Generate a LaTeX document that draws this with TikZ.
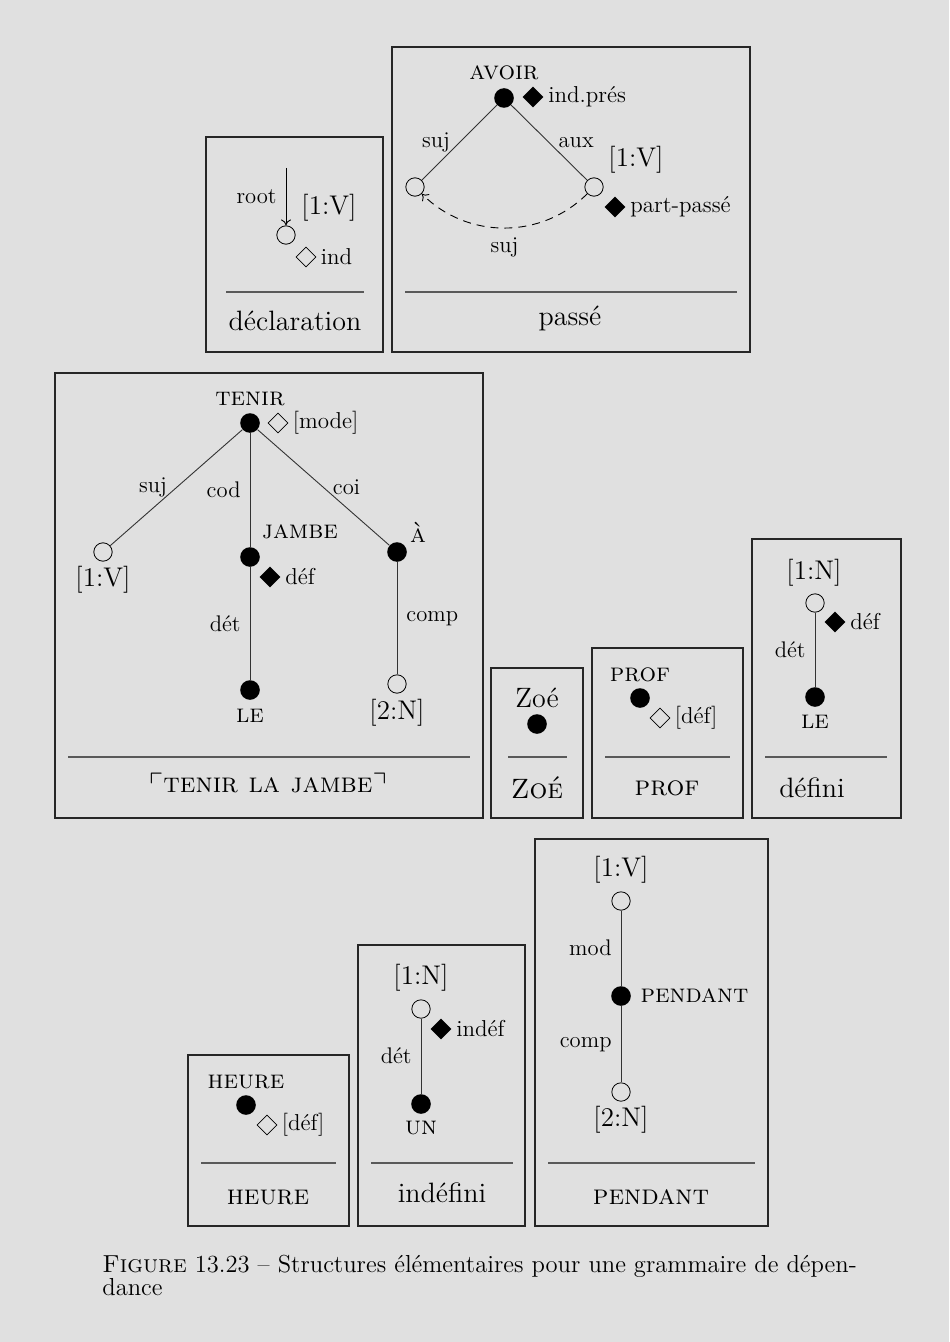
\documentclass[tikz,border=0pt]{standalone}
\usepackage{amssymb}
\usetikzlibrary{shapes.geometric, arrows.meta, positioning}

\begin{document}
\begin{tikzpicture}[
  x=0.5pt, y=-0.5pt,
  %--- style definitions ---
  cadre/.style  = {draw=black!85, line width=0.8pt},
  trait/.style  = {draw=black!65, line width=0.6pt},
  plein/.style  = {circle, fill=black, inner sep=0pt, minimum size=9.8pt},
  vide/.style   = {circle, draw=black, fill=black!12, line width=0.4pt,
                   inner sep=0pt, minimum size=9.2pt},
  fdiam/.style  = {diamond, fill=black, inner sep=0pt, minimum size=10.5pt},
  odiam/.style  = {diamond, draw=black, fill=black!12, line width=0.4pt,
                   inner sep=0pt, minimum size=10pt},
  titre/.style  = {font=\fontsize{14}{16}\selectfont},
  lex/.style    = {font=\fontsize{13}{15}\selectfont\scshape, inner sep=1pt},
  var/.style    = {font=\fontsize{13.5}{16}\selectfont, inner sep=1pt},
  feat/.style   = {font=\fontsize{11.5}{14}\selectfont, inner sep=1pt},
  rel/.style    = {font=\fontsize{11.3}{13}\selectfont, inner sep=4.5pt},
  dep/.style    = {draw=black!80, line width=0.45pt},
  arrow/.style  = {-{To[length=3pt,width=5pt]}, line width=0.45pt},
]

\fill[black!12] (0,0) rectangle (949,1342);
\useasboundingbox (0,0) rectangle (949,1342);

%% ── DÉCLARATION ────────────────────────────────────────────────────────────
\draw[cadre] (206,137) rectangle (383,352);
\node[vide] (dv) at (286,235) {};
\coordinate (droot) at (286,168);
\draw[arrow] (droot) -- node[rel, midway, left] {root} (dv);
\node[var] (dvl) at (329,208) {[1:V]};
\node[odiam] (dd) at (306,257) {};
\node[feat, right=1pt of dd] (df) {ind};
\draw[trait] (226,292) -- (364,292);
\node[titre] (dt) at (295,321) {déclaration};

%% ── PASSÉ ──────────────────────────────────────────────────────────────────
\draw[cadre] (392,47) rectangle (750,352);
\node[plein] (pa) at (504,98) {};
\node[lex] (pal) at (504,73) {avoir};
\node[fdiam] (pad) at (533,97) {};
\node[feat, right=1pt of pad] (paf) {ind.prés};
\node[vide] (pl) at (415,187) {};
\node[vide] (pr) at (594,187) {};
\draw[dep] (pa) -- node[rel, midway, left] {suj} (pl);
\draw[dep] (pa) -- node[rel, midway, right] {aux} (pr);
\node[var] (prl) at (636,160) {[1:V]};
\node[fdiam] (prd) at (615,207) {};
\node[feat, right=1pt of prd] (prf) {part-passé};
% sujet partagé
\draw[arrow, dash pattern=on 4pt off 3pt] (pr) to[bend left=45]
      node[rel, midway, below=0pt] {suj} (pl);
\draw[trait] (405,292) -- (737,292);
\node[titre] (pt) at (570,318) {passé};

%% ── TENIR LA JAMBE ─────────────────────────────────────────────────────────
\draw[cadre] (55,373) rectangle (483,818);
\node[plein] (te) at (250,423) {};
\node[lex] (tel) at (250,399) {tenir};
\node[odiam] (ted) at (278,423) {};
\node[feat, right=1pt of ted] (tef) {[mode]};
\node[vide] (tv) at (103,552) {};
\node[var] (tvl) at (103,580) {[1:V]};
\node[plein] (ja) at (250,557) {};
\node[lex] (jal) at (300,532) {jambe};
\node[fdiam] (jad) at (270,577) {};
\node[feat, right=1pt of jad] (jaf) {déf};
\node[plein] (le) at (250,690) {};
\node[lex] (lel) at (250,716) {le};
\node[plein] (aa) at (397,552) {};
\node[lex] (aal) at (418,532) {à};
\node[vide] (tn) at (397,684) {};
\node[var] (tnl) at (397,713) {[2:N]};

\draw[dep] (te) -- node[rel, midway, left] {suj} (tv);
\draw[dep] (te) -- node[rel, midway, left] {cod} (ja);
\draw[dep] (te) -- node[rel, midway, right] {coi} (aa);
\draw[dep] (ja) -- node[rel, midway, left] {dét} (le);
\draw[dep] (aa) -- node[rel, midway, right] {comp} (tn);
\draw[trait] (68,757) -- (470,757);
\node[titre] (tt) at (268,783) {$\ulcorner$\textsc{tenir la jambe}$\urcorner$};

%% ── ZOÉ ────────────────────────────────────────────────────────────────────
\draw[cadre] (491,668) rectangle (583,818);
\node[titre] (zol) at (537,698) {Zoé};
\node[plein] (zo) at (537,724) {};
\draw[trait] (508,757) -- (567,757);
\node[titre] (zot) at (537,788) {\textsc{Zoé}};

%% ── PROF ───────────────────────────────────────────────────────────────────
\draw[cadre] (592,648) rectangle (743,818);
\node[plein] (pf) at (640,698) {};
\node[lex] (pfl) at (640,675) {prof};
\node[odiam] (pfd) at (660,718) {};
\node[feat, right=1pt of pfd] (pff) {[déf]};
\draw[trait] (605,757) -- (730,757);
\node[titre] (pft) at (667,788) {\textsc{prof}};

%% ── DÉFINI ─────────────────────────────────────────────────────────────────
\draw[cadre] (752,539) rectangle (901,818);
\node[vide] (dn) at (815,603) {};
\node[var] (dnl) at (814,573) {[1:N]};
\node[fdiam] (dnd) at (835,622) {};
\node[feat, right=1pt of dnd] (dnf) {déf};
\node[plein] (dl) at (815,697) {};
\node[lex] (dll) at (815,722) {le};
\draw[dep] (dn) -- node[rel, midway, left] {dét} (dl);
\draw[trait] (765,757) -- (887,757);
\node[titre] (dft) at (812,788) {défini};

%% ── HEURE ──────────────────────────────────────────────────────────────────
\draw[cadre] (188,1055) rectangle (349,1226);
\node[plein] (he) at (246,1105) {};
\node[lex] (hel) at (246,1082) {heure};
\node[odiam] (hed) at (267,1125) {};
\node[feat, right=1pt of hed] (hef) {[déf]};
\draw[trait] (201,1163) -- (336,1163);
\node[titre] (het) at (268,1197) {\textsc{heure}};

%% ── INDÉFINI ───────────────────────────────────────────────────────────────
\draw[cadre] (358,945) rectangle (525,1226);
\node[vide] (ih) at (421,1009) {};
\node[var] (ihl) at (421,978) {[1:N]};
\node[fdiam] (ihd) at (441,1029) {};
\node[feat, right=1pt of ihd] (ihf) {indéf};
\node[plein] (un) at (421,1104) {};
\node[lex] (unl) at (421,1128) {un};
\draw[dep] (ih) -- node[rel, midway, left] {dét} (un);
\draw[trait] (371,1163) -- (513,1163);
\node[titre] (iht) at (442,1193) {indéfini};

%% ── PENDANT ────────────────────────────────────────────────────────────────
\draw[cadre] (535,839) rectangle (768,1226);
\node[vide] (pv) at (621,901) {};
\node[var] (pvl) at (621,870) {[1:V]};
\node[plein] (pe) at (621,996) {};
\node[lex, right=3.5pt of pe] (pel) {pendant};
\node[vide] (pn) at (621,1092) {};
\node[var] (pnl) at (621,1120) {[2:N]};
\draw[dep] (pv) -- node[rel, midway, left] {mod} (pe);
\draw[dep] (pe) -- node[rel, midway, left] {comp} (pn);
\draw[trait] (548,1163) -- (755,1163);
\node[titre] (pet) at (651,1197) {\textsc{pendant}};

%% ── LÉGENDE ────────────────────────────────────────────────────────────────
\node[anchor=base west, inner sep=0pt, align=left,
      font=\fontsize{12.3}{11.5}\selectfont] (legende) at (102,1295)
      {\textsc{Figure} 13.23 -- Structures élémentaires pour une grammaire de dépen-\\dance};

\end{tikzpicture}
\end{document}
